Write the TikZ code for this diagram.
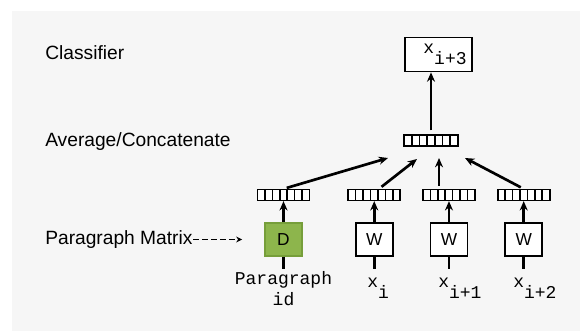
\documentclass[tikz,border=0pt]{standalone}
\usepackage{fontspec}
\setsansfont{Liberation Sans}
\setmonofont{Liberation Mono}
\usetikzlibrary{positioning, arrows.meta, calc}
\definecolor{fondo}{RGB}{246,246,246}
\definecolor{verde}{RGB}{141,181,76}
\definecolor{verdeborde}{RGB}{118,158,58}
\tikzset{
	>={Stealth[length=7pt,width=6pt]}, % Puntas de flecha gruesas
	flecha/.style={->, line width=2pt}, % Arcos dirigidos
	etiqueta/.style={anchor=west, inner sep=0pt, font=\sffamily\fontsize{14.4}{17}\selectfont}, % Textos de la izquierda
	caja/.style={draw, line width=1.3pt, fill=white, minimum width=27.75pt, minimum height=24.75pt, inner sep=0pt, font=\sffamily\fontsize{13}{15}\selectfont}, % Cajas D y W
	vector/.style={draw, line width=1.2pt, fill=white, minimum width=39pt, minimum height=8pt, inner sep=0pt,
		path picture={\foreach \k in {1,...,6}
			\draw[line width=1.2pt] ($(path picture bounding box.south west)!\k/7!(path picture bounding box.south east)$)
				-- ($(path picture bounding box.north west)!\k/7!(path picture bounding box.north east)$);}}, % Vector de 7 celdas
	palabra/.style={inner sep=0pt, font=\ttfamily\fontsize{13.5}{15.75}\selectfont} % Textos en monoespaciado
}
\newcommand{\subidx}[1]{\raisebox{-8.25pt}{#1}}

\begin{document}
\begin{tikzpicture}[x=0.75pt, y=-0.75pt]
	\useasboundingbox (0,0) rectangle (580,331);
	\fill[fondo] (12,11) rectangle (580,331);

	\node[etiqueta] (cls) at (45,53) {Classifier};
	\node[etiqueta] (avgtxt) at (45,142) {Average/Concatenate};
	\node[etiqueta] (pm) at (45,239.5) {Paragraph Matrix};

	\node[caja, fill=verde, draw=verdeborde] (d) at (283.5,239.5) {D};
	\node[caja, right=39pt of d] (w1) {W};
	\node[caja, right=27pt of w1] (w2) {W};
	\node[caja, right=27pt of w2] (w3) {W};

	\node[vector, above=15.75pt of d] (vd) {};
	\node[vector, above=15.75pt of w1] (v1) {};
	\node[vector, above=15.75pt of w2] (v2) {};
	\node[vector, above=15.75pt of w3] (v3) {};

	\node[vector, minimum width=40.5pt] (avg) at (431,140.5) {};
	\node[caja, palabra, draw, minimum width=50pt, minimum height=25.5pt] (out) at (438.5,54.5)
		{\hspace*{9.75pt}x\subidx{i+3}};

	\coordinate[below=9pt of d.south] (dd);
	\coordinate[below=9pt of w1.south] (e1);
	\coordinate[below=9pt of w2.south] (e2);
	\coordinate[below=9pt of w3.south] (e3);

	\node[palabra, align=center, anchor=north] (pid) at (283.5,271) {Paragraph\\id};
	\node[palabra, anchor=north west] (xi) at (367,277.5) {x\subidx{i}};
	\node[palabra, anchor=north west] (xi1) at (438,277.5) {x\subidx{i+1}};
	\node[palabra, anchor=north west] (xi2) at (513,277.5) {x\subidx{i+2}};

	\coordinate (a1) at (388,158);
	\coordinate (a2) at (417,159);
	\coordinate (a3) at (439,158);
	\coordinate (a4) at (465,158);

	\draw[line width=2pt] (d) -- (dd) (w1) -- (e1) (w2) -- (e2) (w3) -- (e3);
	\draw[flecha] (d) -- (vd);
	\draw[flecha] (w1) -- (v1);
	\draw[flecha] (w2) -- (v2);
	\draw[flecha] (w3) -- (v3);
	\draw[flecha, shorten <=2.5pt] (vd.north) -- (a1);
	\draw[flecha, shorten <=2.5pt] ([xshift=3.5]v1.north) -- (a2);
	\draw[flecha, shorten <=2.5pt] (a3 |- v2.north) -- (a3);
	\draw[flecha, shorten <=2.5pt] (v3.north) -- (a4);
	\draw[flecha, shorten <=3pt] (avg) -- (avg |- out.south);
	\draw[-{Stealth[length=4.5pt,width=4.5pt]}, line width=1.1pt, dash pattern=on 4.5pt off 2.25pt, shorten >=16.5pt] (pm) -- (pm -| d.west);
\end{tikzpicture}
\end{document}
